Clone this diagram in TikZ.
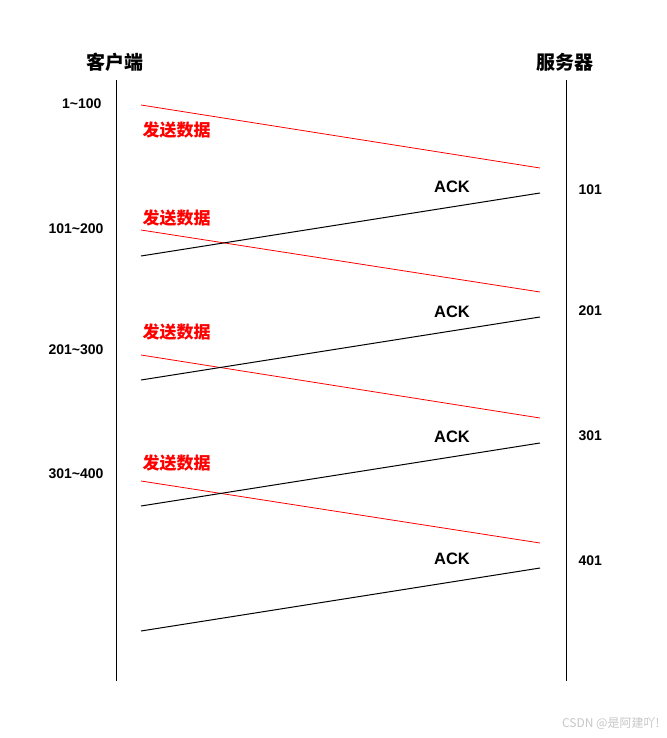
\documentclass[tikz,border=0pt]{standalone}
\usepackage{fontspec}
\setmainfont{Liberation Sans}
\newfontfamily\cjk{Noto Sans CJK SC}

\begin{document}
\begin{tikzpicture}[x=1pt,y=-1pt,
    head/.style={font=\cjk\bfseries\fontsize{19}{19}\selectfont},
    seq/.style={font=\bfseries\fontsize{14}{14}\selectfont},
    ack/.style={font=\bfseries\fontsize{16.5}{16.5}\selectfont},
    send/.style={font=\cjk\bfseries\fontsize{17}{17}\selectfont,text=red,anchor=west},
    data/.style={red,line width=0.8pt},
    reply/.style={black,line width=1pt}]
  \useasboundingbox (0,0) rectangle (666,738);
  % the two sides
  \node[head] (client) at (115,62) {客户端};
  \node[head] (server) at (565,62) {服务器};
  \coordinate (c-top) at (116,80);
  \coordinate (c-bot) at (116,681);
  \coordinate (s-top) at (566,80);
  \coordinate (s-bot) at (566,681);
  \draw[line width=1pt] (c-top) -- (c-bot);
  \draw[line width=1pt] (s-top) -- (s-bot);
  % sequence numbers
  \node[seq,anchor=east] (c-1) at (105,104) {1\textasciitilde100};
  \node[seq,anchor=east] (c-2) at (107,229) {101\textasciitilde200};
  \node[seq,anchor=east] (c-3) at (107,350) {201\textasciitilde300};
  \node[seq,anchor=east] (c-4) at (107,474) {301\textasciitilde400};
  \node[seq,anchor=west] (s-1) at (575,190) {101};
  \node[seq,anchor=west] (s-2) at (575,311) {201};
  \node[seq,anchor=west] (s-3) at (575,436) {301};
  \node[seq,anchor=west] (s-4) at (575,561) {401};
  % end points of the segments
  \coordinate (d1a) at (141,105); \coordinate (d1b) at (540,168);
  \coordinate (d2a) at (141,230); \coordinate (d2b) at (540,292);
  \coordinate (d3a) at (141,355); \coordinate (d3b) at (540,418);
  \coordinate (d4a) at (141,481); \coordinate (d4b) at (540,543);
  \coordinate (a1a) at (141,256); \coordinate (a1b) at (540,193);
  \coordinate (a2a) at (141,380); \coordinate (a2b) at (540,317);
  \coordinate (a3a) at (141,506); \coordinate (a3b) at (540,443);
  \coordinate (a4a) at (141,631); \coordinate (a4b) at (540,568);
  \path
    (d1a) edge[data] (d1b)
    (d2a) edge[data] (d2b)
    (d3a) edge[data] (d3b)
    (d4a) edge[data] (d4b)
    (a1a) edge[reply] (a1b)
    (a2a) edge[reply] (a2b)
    (a3a) edge[reply] (a3b)
    (a4a) edge[reply] (a4b);
  % labels on the segments
  \node[send] (l-1) at (139,130) {发送数据};
  \node[send] (l-2) at (139,218) {发送数据};
  \node[send] (l-3) at (139,332) {发送数据};
  \node[send] (l-4) at (139,463) {发送数据};
  \node[ack] (k-1) at (452,187) {ACK};
  \node[ack] (k-2) at (452,312) {ACK};
  \node[ack] (k-3) at (452,437) {ACK};
  \node[ack] (k-4) at (452,559) {ACK};
  \node[font=\cjk\fontsize{12}{12}\selectfont,text=black!22,anchor=east] (mark) at (663,723) {CSDN @是阿建吖!};
\end{tikzpicture}
\end{document}
